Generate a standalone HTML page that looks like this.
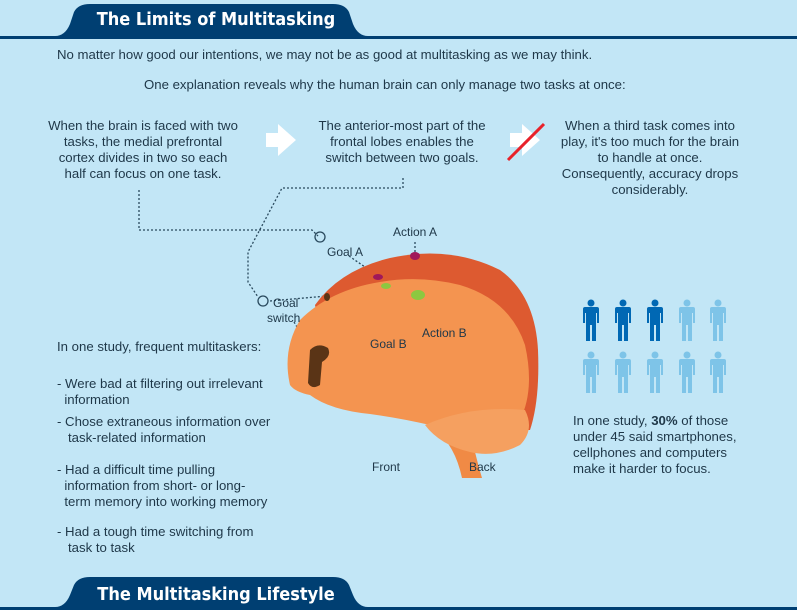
<!DOCTYPE html>
<html><head><meta charset="utf-8"><style>
*{margin:0;padding:0}
body{width:797px;height:610px;background:#c2e6f6;position:relative;overflow:hidden;font-family:"Liberation Sans",sans-serif;color:#1e3748}
.t{position:absolute;font-size:13.2px;line-height:16px;white-space:nowrap}
.c{text-align:center}
.h{position:absolute;color:#fff;font-weight:bold;font-size:18px;font-family:"DejaVu Sans Condensed","DejaVu Sans",sans-serif;text-align:center;width:300px}
</style></head><body>
<svg width="797" height="610" style="position:absolute;left:0;top:0">
<path d="M0 36 H55 Q65 36 70 24 L74 12 Q78 4 90 4 H333 Q345 4 349 12 L353 24 Q358 36 368 36 H797 V39 H0Z" fill="#003f72"/>
<path d="M0 610 V607 H55 Q65 607 70 595 L74 585 Q78 577 90 577 H333 Q345 577 349 585 L353 595 Q358 607 368 607 H797 V610Z" fill="#003f72"/>
<path d="M266 133 H278 V124 L296 140 L278 156 V147 H266Z" fill="#fff"/>
<path d="M510 133 H522 V124 L540 140 L522 156 V147 H510Z" fill="#fff"/>
<line x1="508" y1="160" x2="544" y2="124" stroke="#e8222a" stroke-width="3"/>
<g fill="none" stroke="#2a4a5e" stroke-width="1.3" stroke-dasharray="2,2">
<path d="M139 190 V230 H312 L318 236"/>
<path d="M403 178 V188 H282 L248 252 V282 L258 297"/>
<path d="M270 301 L327 296"/>
<path d="M349 256 L378 276"/>
<path d="M384 283 L387 337"/>
<path d="M415 242 V253"/>
<path d="M416 295 L437 322"/>
<path d="M294 322 L312 352"/>
</g>
<circle cx="320" cy="237" r="5" fill="none" stroke="#2a4a5e" stroke-width="1.3"/>
<circle cx="263" cy="301" r="5" fill="none" stroke="#2a4a5e" stroke-width="1.3"/>
<path d="M315 305 Q340 270 390 258 Q450 245 500 270 Q535 295 538 350 Q540 400 530 430 L470 430 L320 330Z" fill="#dd5a30"/>
<path d="M435 430 Q455 445 462 478 H482 Q475 455 470 428Z" fill="#f08a45"/>
<path d="M290 385 Q282 350 300 320 Q330 290 380 282 Q420 275 460 285 Q510 300 525 345 Q535 390 520 420 Q500 432 470 428 L430 425 Q400 418 370 414 Q330 410 310 395 Q295 392 290 385Z" fill="#f49450"/>
<path d="M425 425 Q470 405 525 410 Q535 430 520 445 Q495 458 470 452 Q440 445 425 425Z" fill="#f5a060"/>
<path d="M310 350 Q318 342 328 348 Q332 356 322 362 L320 385 Q312 390 308 383Z" fill="#5a3416"/>
<ellipse cx="327" cy="297" rx="3" ry="4" fill="#5a3416"/>
<ellipse cx="378" cy="277" rx="5" ry="3" fill="#a0185a"/>
<ellipse cx="415" cy="256" rx="5" ry="4" fill="#a0185a"/>
<ellipse cx="386" cy="286" rx="5" ry="3" fill="#8cc840"/>
<ellipse cx="418" cy="295" rx="7" ry="5" fill="#8cc840"/>
<defs><g id="p"><circle cx="0" cy="-2" r="3.5"/><path d="M-8 4 Q-8 2 -6 2 H6 Q8 2 8 4 V18 H6 V8 H5 V36 H1 V20 H-1 V36 H-5 V8 H-6 V18 H-8Z"/></g></defs>
<g fill="#0068b4"><use href="#p" x="591" y="305"/><use href="#p" x="623" y="305"/><use href="#p" x="655" y="305"/></g>
<g fill="#7ec4e8"><use href="#p" x="687" y="305"/><use href="#p" x="718" y="305"/>
<use href="#p" x="591" y="357"/><use href="#p" x="623" y="357"/><use href="#p" x="655" y="357"/><use href="#p" x="687" y="357"/><use href="#p" x="718" y="357"/></g>
</svg>
<div class="h" style="left:66px;top:9px">The Limits of Multitasking</div>
<div class="h" style="left:66px;top:584px">The Multitasking Lifestyle</div>
<div class="t" style="left:57px;top:47px">No matter how good our intentions, we may not be as good at multitasking as we may think.</div>
<div class="t" style="left:144px;top:77px">One explanation reveals why the human brain can only manage two tasks at once:</div>
<div class="t c" style="left:38px;top:118px;width:210px">When the brain is faced with two<br>tasks, the medial prefrontal<br>cortex divides in two so each<br>half can focus on one task.</div>
<div class="t c" style="left:307px;top:118px;width:190px">The anterior-most part of the<br>frontal lobes enables the<br>switch between two goals.</div>
<div class="t c" style="left:550px;top:118px;width:200px">When a third task comes into<br>play, it's too much for the brain<br>to handle at once.<br>Consequently, accuracy drops<br>considerably.</div>
<div class="t" style="left:393px;top:224px;font-size:12px">Action A</div>
<div class="t" style="left:327px;top:244px;font-size:12px">Goal A</div>
<div class="t" style="left:273px;top:295px;font-size:12px">Goal</div>
<div class="t" style="left:267px;top:310px;font-size:12px">switch</div>
<div class="t" style="left:370px;top:336px;font-size:12px">Goal B</div>
<div class="t" style="left:422px;top:325px;font-size:12px">Action B</div>
<div class="t" style="left:372px;top:459px;font-size:12px">Front</div>
<div class="t" style="left:469px;top:459px;font-size:12px">Back</div>
<div class="t" style="left:57px;top:339px">In one study, frequent multitaskers:</div>
<div class="t" style="left:57px;top:376px">- Were bad at filtering out irrelevant<br>&nbsp;&nbsp;information</div>
<div class="t" style="left:57px;top:414px">- Chose extraneous information over<br>&nbsp;&nbsp;&nbsp;task-related information</div>
<div class="t" style="left:57px;top:462px">- Had a difficult time pulling<br>&nbsp;&nbsp;information from short- or long-<br>&nbsp;&nbsp;term memory into working memory</div>
<div class="t" style="left:57px;top:524px">- Had a tough time switching from<br>&nbsp;&nbsp;&nbsp;task to task</div>
<div class="t" style="left:573px;top:413px">In one study, <b>30%</b> of those<br>under 45 said smartphones,<br>cellphones and computers<br>make it harder to focus.</div>
</body></html>
